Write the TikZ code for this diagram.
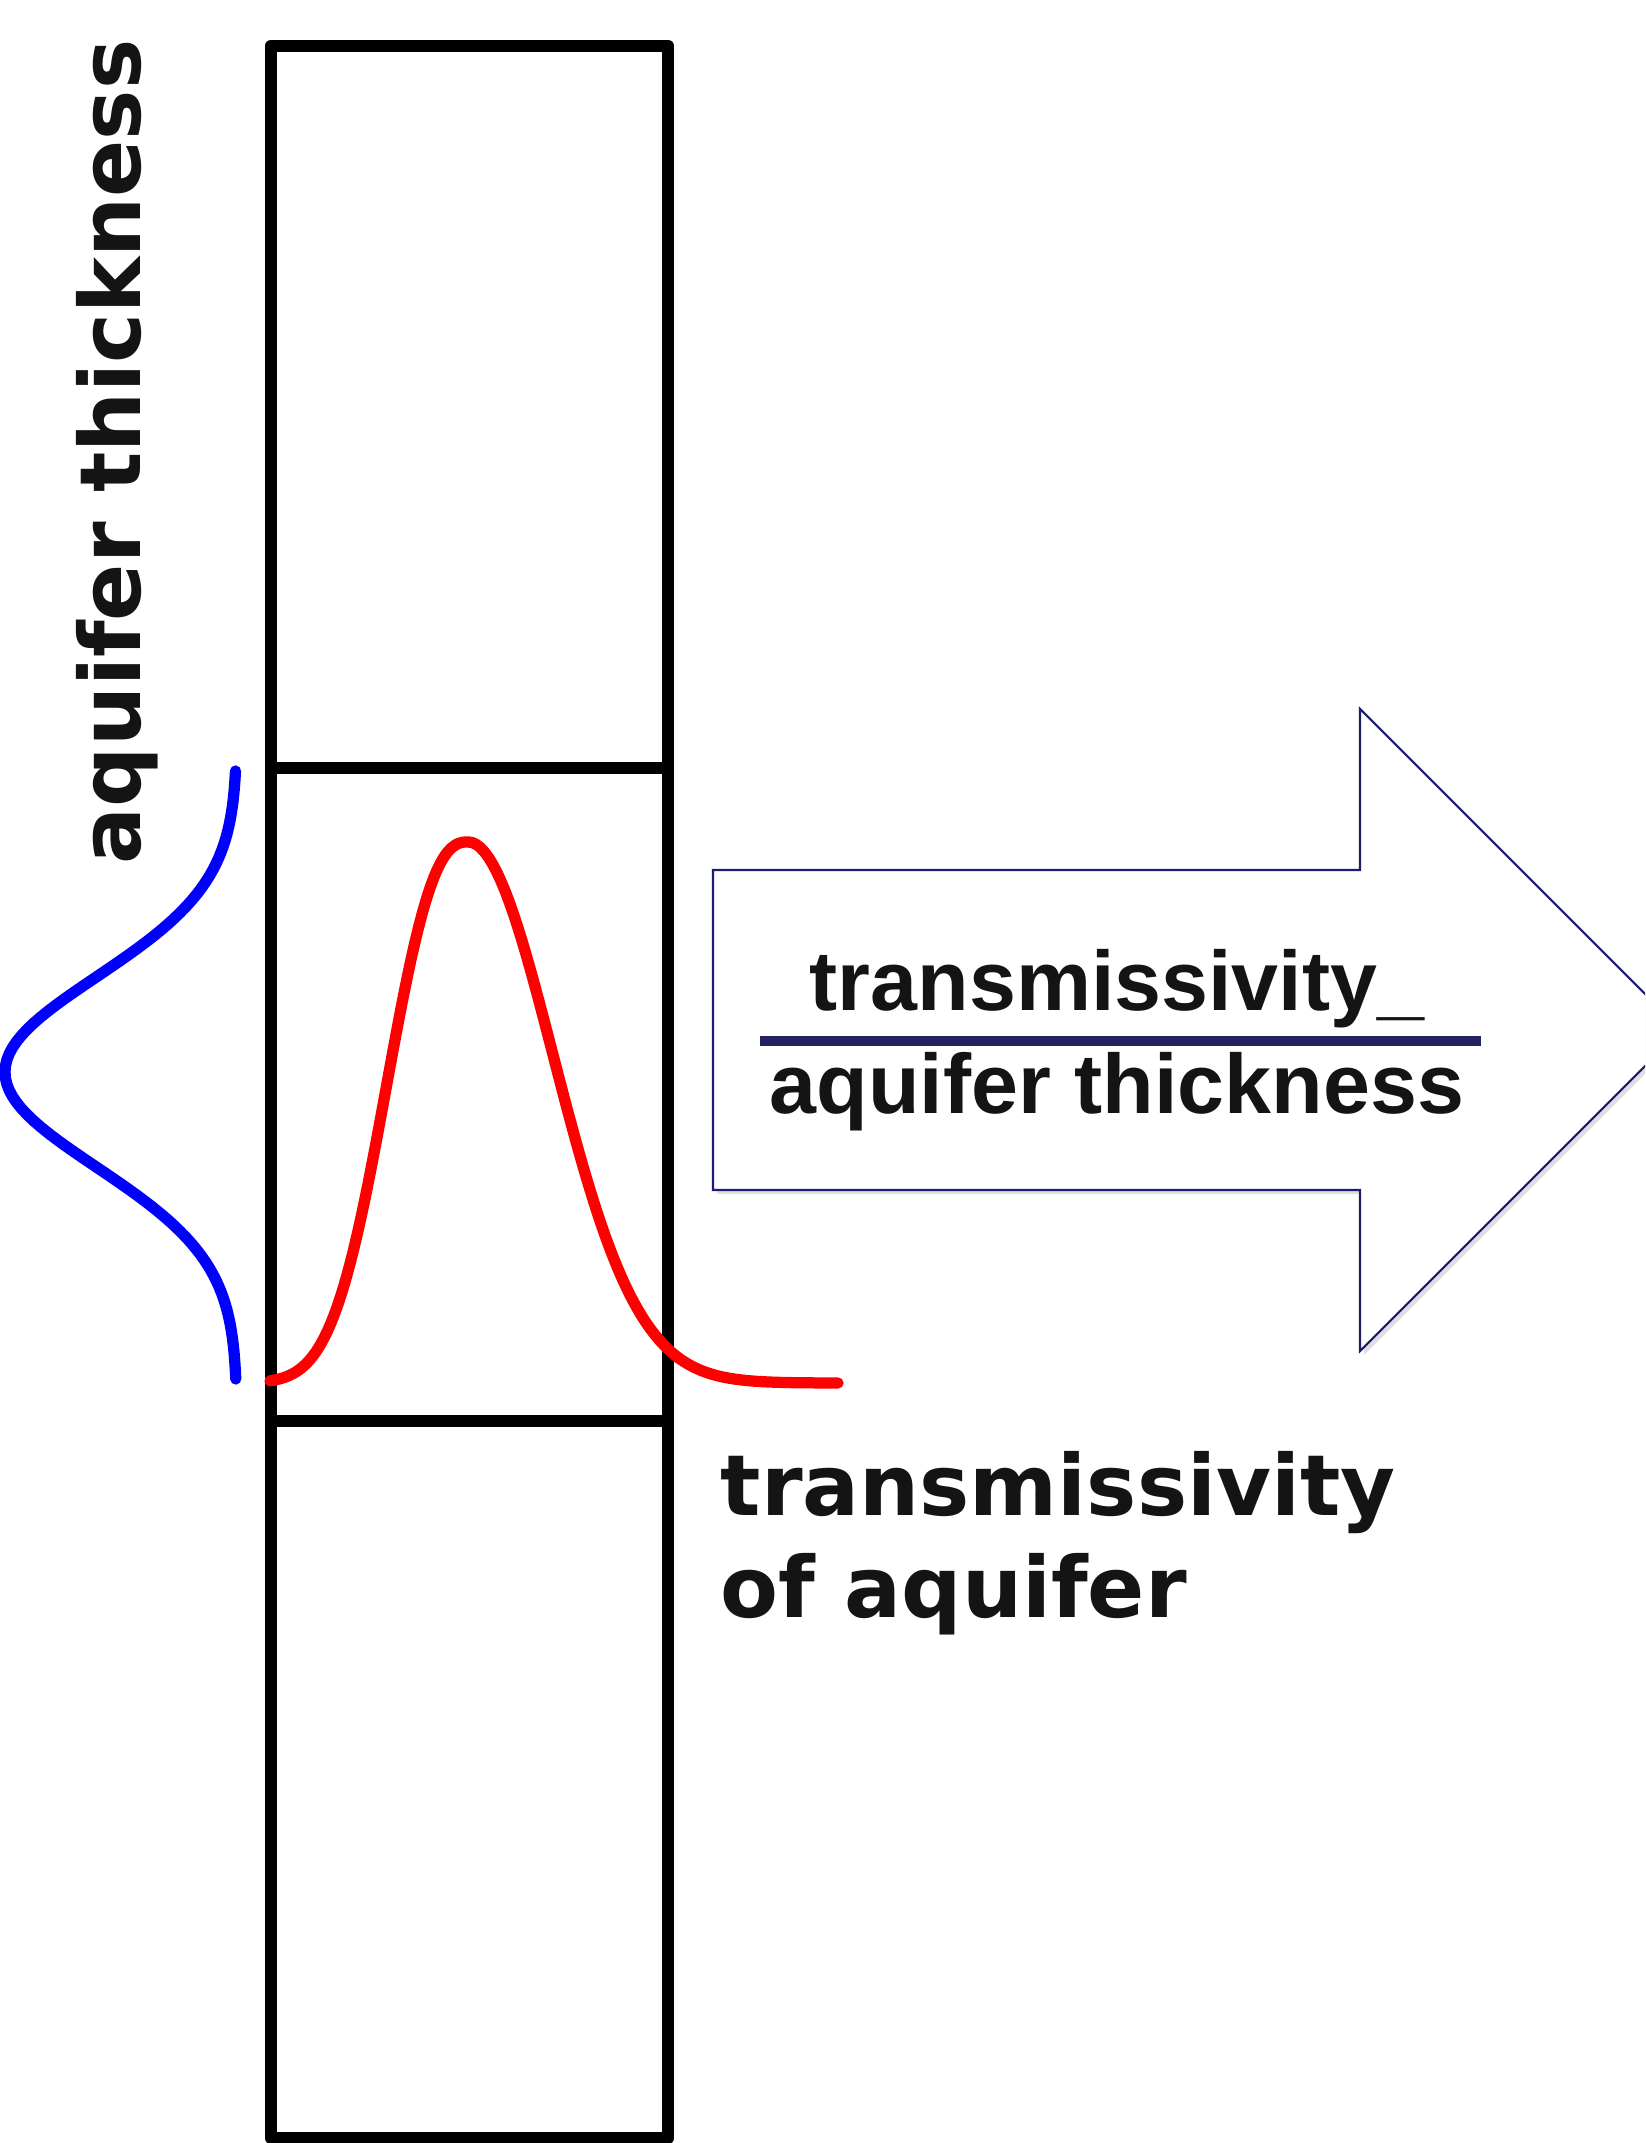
\documentclass[tikz,border=0pt]{standalone}
\usepackage{fontspec}
\setmainfont{Liberation Sans}
\newfontfamily\wideface{DejaVu Sans}
\usepackage{tikz}
\usepackage{xcolor}
\definecolor{curvered}{RGB}{255,0,0}
\definecolor{curveblue}{RGB}{0,0,255}
\definecolor{arrownavy}{RGB}{30,30,110}
\definecolor{barnavy}{RGB}{35,35,100}
\definecolor{inkblack}{RGB}{20,20,20}

\begin{document}
\begin{tikzpicture}[x=0.01cm, y=-0.01cm]
\useasboundingbox (0,0) rectangle (1645,2143);
\clip (0,0) rectangle (1645,2143);

% Big arrow (tip runs off the page)
\fill[black!12] (717,874) -- (1364,874) -- (1364,713) -- (1685,1034) -- (1364,1355) -- (1364,1194) -- (717,1194) -- cycle;
\draw[arrownavy, line width=0.6pt, fill=white] (713,870) -- (1360,870) -- (1360,709) -- (1681,1030) -- (1360,1351) -- (1360,1190) -- (713,1190) -- cycle;

% Column
\draw[line width=3.6pt, line join=round] (271,46) rectangle (668,2138);
\draw[line width=3.6pt] (271,768) -- (668,768);
\draw[line width=3.6pt] (271,1421) -- (668,1421);

% Curves
\draw[curveblue, line width=3.2pt, line cap=round] plot[domain=771:1379, samples=100] ({237-232*exp(-0.5*((\x-1072)/95)^2)}, \x);
\draw[curvered, line width=3.2pt, line cap=round] plot[domain=270:467.9, samples=70] (\x, {1383-541*exp(-((468-\x)/100)^2.5)})
  -- plot[domain=468:838, samples=90] (\x, {1383-541*exp(-0.5*((\x-468)/85)^2)});

% Labels
\node[rotate=90, anchor=base, text=inkblack, font=\wideface\bfseries\fontsize{24}{29}\selectfont] (thick) at (140,452) {aquifer thickness};

\node[anchor=base, text=inkblack, font=\bfseries\fontsize{24}{29}\selectfont] (num) at (1117,1010) {transmissivity\_};
\coordinate (barL) at (760,1041);
\coordinate (barR) at (1481,1041);
\draw[barnavy, line width=2.6pt] (barL) -- (barR);
\node[anchor=base, text=inkblack, font=\bfseries\fontsize{24}{29}\selectfont] (den) at (1117,1113) {aquifer thickness};

\node[anchor=base west, inner sep=0pt, text=inkblack, font=\wideface\bfseries\fontsize{24}{29}\selectfont] (transm) at (720,1515) {transmissivity};
\node[anchor=base west, inner sep=0pt, text=inkblack, font=\wideface\bfseries\fontsize{24}{29}\selectfont] (ofaq) at (720,1617) {of aquifer};
\end{tikzpicture}
\end{document}
